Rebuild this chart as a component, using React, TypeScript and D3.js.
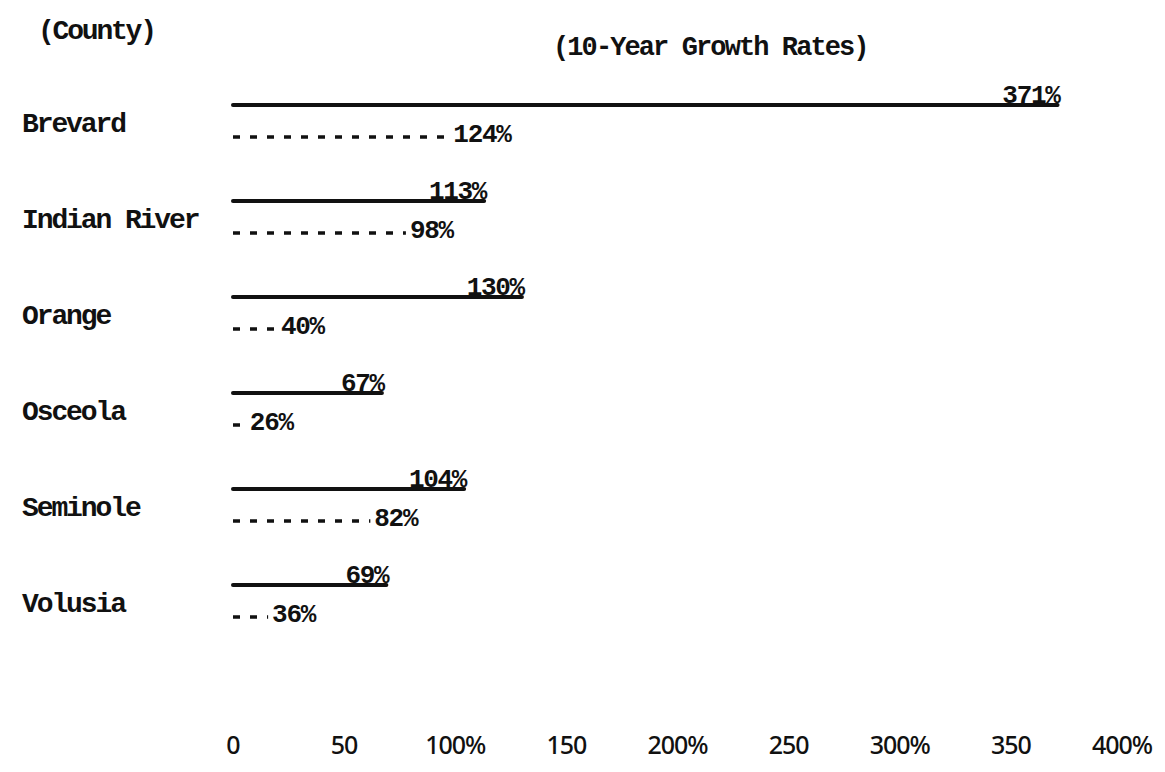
import React from "react";
import * as d3 from "d3";

const counties = ["Brevard", "Indian River", "Orange", "Osceola", "Seminole", "Volusia"];
const rateSolid = [371, 113, 130, 67, 104, 69];
const rateDashed = [124, 98, 40, 26, 82, 36];
const tickValues = [0, 50, 100, 150, 200, 250, 300, 350, 400];
const tickLabels = ["0", "50", "100%", "150", "200%", "250", "300%", "350", "400%"];
const countyHeader = "(County)";
const chartTitle = "(10-Year Growth Rates)";

const W = 1165;
const H = 772;
const typeFont = "'Liberation Mono', 'Courier New', monospace";
const handFont = "'Noto Sans', 'DejaVu Sans', sans-serif";
const ink = "#111";
const labelSize = 26;
const labelSpacing = -1.3;
const labelAdvance = labelSize * 0.6 + labelSpacing;

export default function App() {
  const x = d3.scaleLinear().domain([0, 400]).range([233, 1122]);
  const y = d3.scalePoint<string>().domain(counties).range([105, 585]);
  const x0 = x(0);

  return (
    <div style={{ position: "absolute", left: 0, top: 0, background: "#fff" }}>
      <svg width={W} height={H} viewBox={`0 0 ${W} ${H}`} style={{ display: "block", background: "#fff" }}>
        <text x={38} y={39} fontFamily={typeFont} fontWeight="bold" fontSize={28} letterSpacing={-2.2} fill={ink}>
          {countyHeader}
        </text>
        <text x={553} y={55} fontFamily={typeFont} fontWeight="bold" fontSize={27} letterSpacing={-1.9} fill={ink}>
          {chartTitle}
        </text>

        {counties.map((c, i) => {
          const yy = y(c) as number;
          const solidEnd = x(rateSolid[i]);
          const dashEnd = x(rateDashed[i]);
          const solidLabel = `${rateSolid[i]}%`;
          const dashLabel = `${rateDashed[i]}%`;
          const dashLabelW = dashLabel.length * labelAdvance;
          const dashStop = Math.max(x0, dashEnd - dashLabelW - 2);
          const yd = yy + 32;
          return (
            <g key={c}>
              <text x={22} y={yy + 27} fontFamily={typeFont} fontWeight="bold" fontSize={28} letterSpacing={-2.1} fill={ink}>
                {c}
              </text>
              <line x1={x0} x2={solidEnd} y1={yy} y2={yy} stroke={ink} strokeWidth={4} strokeLinecap="round" />
              <text
                x={solidEnd + 2}
                y={yy - 2}
                textAnchor="end"
                fontFamily={typeFont}
                fontWeight="bold"
                fontSize={labelSize}
                letterSpacing={labelSpacing}
                fill={ink}
              >
                {solidLabel}
              </text>
              {dashStop - x0 > 4 && (
                <line
                  x1={x0}
                  x2={dashStop}
                  y1={yd}
                  y2={yd}
                  stroke={ink}
                  strokeWidth={3.5}
                  strokeDasharray="7 10"
                />
              )}
              <text
                x={dashEnd + 2}
                y={yd + 5}
                textAnchor="end"
                fontFamily={typeFont}
                fontWeight="bold"
                fontSize={labelSize}
                letterSpacing={labelSpacing}
                fill={ink}
              >
                {dashLabel}
              </text>
            </g>
          );
        })}

        {tickValues.map((v, i) => (
          <text
            key={v}
            x={x(v)}
            y={754}
            textAnchor="middle"
            fontFamily={handFont}
            fontWeight={500}
            fontSize={25}
            letterSpacing={-1}
            fill={ink}
          >
            {tickLabels[i]}
          </text>
        ))}
      </svg>
    </div>
  );
}
